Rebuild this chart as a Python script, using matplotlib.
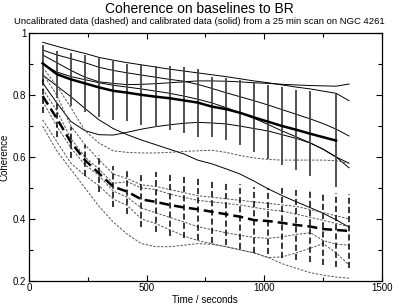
import numpy as np
import matplotlib
matplotlib.use('Agg')
import matplotlib.pyplot as plt

# tiempos de cada punto (s)
t = [58, 118, 178, 238, 298, 358, 418, 478, 538, 598, 658, 717,
     777, 837, 897, 957, 1017, 1077, 1137, 1197, 1251, 1306, 1361]

# lineas calibradas (continuas)
cal = [
    [0.971, 0.958, 0.946, 0.935, 0.922, 0.913, 0.905, 0.898, 0.891, 0.884, 0.878, 0.872,
     0.866, 0.860, 0.853, 0.846, 0.840, 0.833, 0.826, 0.820, 0.813, 0.806, 0.782],
    [0.930, 0.905, 0.880, 0.858, 0.843, 0.838, 0.834, 0.835, 0.837, 0.840, 0.843, 0.846,
     0.846, 0.845, 0.843, 0.840, 0.838, 0.835, 0.833, 0.831, 0.830, 0.829, 0.836],
    [0.946, 0.930, 0.918, 0.905, 0.890, 0.880, 0.872, 0.865, 0.858, 0.851, 0.845, 0.835,
     0.822, 0.808, 0.795, 0.782, 0.768, 0.753, 0.738, 0.723, 0.708, 0.690, 0.668],
    [0.900, 0.875, 0.860, 0.850, 0.840, 0.832, 0.826, 0.820, 0.813, 0.806, 0.797, 0.787,
     0.775, 0.760, 0.743, 0.725, 0.705, 0.684, 0.665, 0.645, 0.625, 0.600, 0.580],
    [0.840, 0.775, 0.715, 0.685, 0.672, 0.671, 0.680, 0.690, 0.698, 0.704, 0.709, 0.712,
     0.710, 0.707, 0.700, 0.692, 0.684, 0.672, 0.660, 0.645, 0.625, 0.600, 0.565],
    [0.865, 0.830, 0.795, 0.757, 0.720, 0.692, 0.672, 0.655, 0.640, 0.625, 0.610, 0.590,
     0.578, 0.562, 0.545, 0.522, 0.497, 0.475, 0.455, 0.436, 0.418, 0.397, 0.373],
]

# lineas sin calibrar (discontinuas)
uncal = [
    [0.890, 0.830, 0.760, 0.685, 0.645, 0.620, 0.615, 0.613, 0.613, 0.615, 0.618, 0.620,
     0.622, 0.615, 0.605, 0.597, 0.592, 0.590, 0.590, 0.590, 0.590, 0.588, 0.580],
    [0.870, 0.800, 0.700, 0.640, 0.590, 0.545, 0.530, 0.510, 0.505, 0.495, 0.485, 0.475,
     0.470, 0.465, 0.460, 0.455, 0.450, 0.445, 0.440, 0.430, 0.420, 0.410, 0.400],
    [0.820, 0.750, 0.660, 0.600, 0.560, 0.515, 0.520, 0.500, 0.495, 0.480, 0.470, 0.460,
     0.455, 0.450, 0.445, 0.437, 0.430, 0.425, 0.415, 0.405, 0.395, 0.385, 0.375],
    [0.780, 0.700, 0.630, 0.575, 0.540, 0.490, 0.470, 0.435, 0.420, 0.405, 0.390, 0.375,
     0.365, 0.355, 0.347, 0.340, 0.337, 0.342, 0.350, 0.355, 0.330, 0.318, 0.315],
    [0.720, 0.650, 0.580, 0.540, 0.507, 0.464, 0.443, 0.400, 0.385, 0.365, 0.345, 0.330,
     0.320, 0.310, 0.300, 0.290, 0.275, 0.277, 0.290, 0.305, 0.320, 0.290, 0.251],
    [0.700, 0.620, 0.560, 0.500, 0.440, 0.390, 0.350, 0.320, 0.310, 0.310, 0.315, 0.320,
     0.318, 0.310, 0.300, 0.290, 0.275, 0.255, 0.240, 0.226, 0.218, 0.212, 0.208],
]

# medias y errores
t_cal = t[:20] + [t[21]]
cal_mean = [0.903, 0.868, 0.851, 0.838, 0.825, 0.814, 0.808, 0.801, 0.795, 0.790, 0.783, 0.776,
            0.763, 0.755, 0.743, 0.728, 0.714, 0.700, 0.688, 0.675, 0.653]
cal_err = [0.060, 0.076, 0.086, 0.093, 0.097, 0.095, 0.093, 0.099, 0.098, 0.104, 0.107, 0.110,
           0.097, 0.100, 0.105, 0.113, 0.120, 0.127, 0.130, 0.137, 0.150]
unc_mean = [0.797, 0.725, 0.648, 0.590, 0.547, 0.504, 0.488, 0.463, 0.455, 0.445, 0.437, 0.431,
            0.423, 0.415, 0.407, 0.396, 0.393, 0.387, 0.380, 0.375, 0.367, 0.364, 0.361]
unc_err = [0.055, 0.060, 0.050, 0.050, 0.060, 0.066, 0.071, 0.090, 0.097, 0.100, 0.100, 0.100,
           0.100, 0.100, 0.105, 0.107, 0.108, 0.112, 0.112, 0.115, 0.116, 0.120, 0.120]

plt.rcParams['font.family'] = ['Liberation Sans', 'DejaVu Sans']

fig = plt.figure(figsize=(3.99, 3.04), dpi=100)
ax = fig.add_axes([0.0727, 0.0766, 0.8840, 0.8139])

for y in cal:
    ax.plot(t, y, color='black', lw=0.7)
for y in uncal:
    ax.plot(t, y, color='#555555', lw=0.7, dashes=(2.5, 1.5))

ax.errorbar(t_cal, cal_mean, yerr=cal_err, fmt='none', ecolor='#444444', elinewidth=1.3, capsize=0)
ax.plot(t_cal, cal_mean, color='black', lw=1.8)

eb = ax.errorbar(t, unc_mean, yerr=unc_err, fmt='none', ecolor='black', elinewidth=1.1, capsize=0)
eb[2][0].set_linestyle((0, (4, 2)))
ax.plot(t, unc_mean, color='black', lw=1.8, dashes=(4, 2))

ax.set_xlim(0, 1500)
ax.set_ylim(0.2, 1.0)
ax.set_xticks([0, 500, 1000, 1500])
ax.set_xticklabels(['0', '500', '1000', '1500'])
ax.set_xticks(np.arange(250, 1500, 500), minor=True)
ax.set_yticks([0.2, 0.4, 0.6, 0.8, 1.0])
ax.set_yticklabels(['0.2', '0.4', '0.6', '0.8', '1'])
ax.set_yticks([0.3, 0.5, 0.7, 0.9], minor=True)
ax.tick_params(which='both', direction='in', top=True, right=True, labelsize=7, pad=2, width=0.8)
ax.tick_params(which='major', length=4.5)
ax.tick_params(which='minor', length=3)
for s in ax.spines.values():
    s.set_linewidth(0.9)

ax.set_xlabel('Time / seconds', fontsize=7, labelpad=1)
ax.set_ylabel('Coherence', fontsize=7, labelpad=2)

fig.text(0.5, 0.972, 'Coherence on baselines to BR', ha='center', va='center', fontsize=10)
fig.text(0.5, 0.928, 'Uncalibrated data (dashed) and calibrated data (solid) from a 25 min scan on NGC 4261',
         ha='center', va='center', fontsize=6.8)

fig.savefig('out.png', dpi=100)
